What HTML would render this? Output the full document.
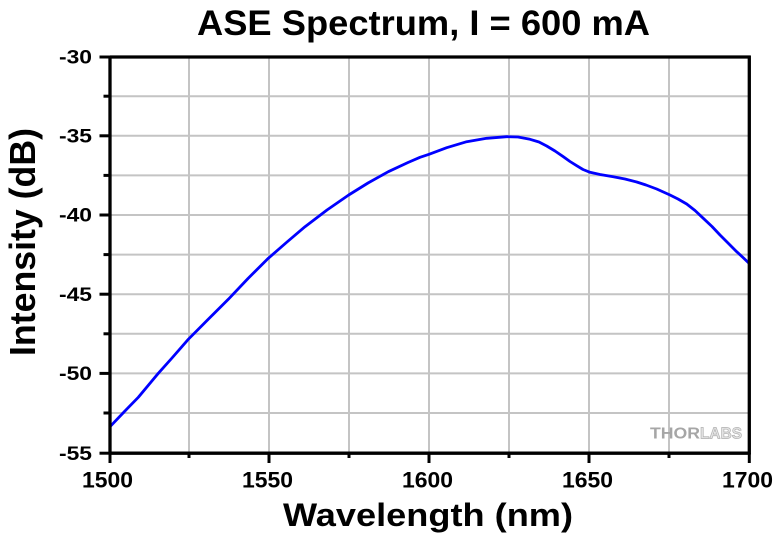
<!DOCTYPE html>
<html>
<head>
<meta charset="utf-8">
<style>
html,body{margin:0;padding:0;background:#fff;}
svg{display:block;}
text{font-family:"Liberation Sans",Arial,sans-serif;font-weight:bold;fill:#000;}
</style>
</head>
<body>
<svg width="780" height="537" viewBox="0 0 780 537" xmlns="http://www.w3.org/2000/svg">
<rect x="0" y="0" width="780" height="537" fill="#fff"/>
<!-- grid -->
<g stroke="#c4c4c4" stroke-width="2" fill="none">
<line x1="189" y1="57" x2="189" y2="452"/>
<line x1="269" y1="57" x2="269" y2="452"/>
<line x1="349" y1="57" x2="349" y2="452"/>
<line x1="429" y1="57" x2="429" y2="452"/>
<line x1="509" y1="57" x2="509" y2="452"/>
<line x1="589" y1="57" x2="589" y2="452"/>
<line x1="669" y1="57" x2="669" y2="452"/>
<line x1="110" y1="96.2" x2="748" y2="96.2"/>
<line x1="110" y1="135.8" x2="748" y2="135.8"/>
<line x1="110" y1="175.4" x2="748" y2="175.4"/>
<line x1="110" y1="215" x2="748" y2="215"/>
<line x1="110" y1="254.6" x2="748" y2="254.6"/>
<line x1="110" y1="294.2" x2="748" y2="294.2"/>
<line x1="110" y1="333.8" x2="748" y2="333.8"/>
<line x1="110" y1="373.4" x2="748" y2="373.4"/>
<line x1="110" y1="413" x2="748" y2="413"/>
</g>
<!-- THORLABS logo -->
<text x="650" y="438.5" font-size="16" textLength="50" lengthAdjust="spacingAndGlyphs" style="fill:#a6a6a6">THOR</text>
<text x="700" y="438.5" font-size="16" textLength="42" lengthAdjust="spacingAndGlyphs" style="fill:#e4e4e4;stroke:#b0b0b0;stroke-width:0.7">LABS</text>
<!-- curve -->
<polyline fill="none" stroke="#0000ff" stroke-width="2.8" stroke-linejoin="round" stroke-linecap="round"
points="110,426.7 124,412 138.3,397.3 158.3,373.3 172,358 188.3,339.3 208,319.5 228.3,299.3 248,278.5 268.3,258.3 287,242 305,226.7 327,210 348.7,195 368,183 388.3,171.7 408,162.5 420,157.3 429,154.3 446.7,147.7 466.7,141.7 486.7,138.3 506.7,136.7 518,137 530,139.3 539,142 546.7,146 555,151 563.3,156.7 570,161.5 576.7,165.7 583,169.5 590,172.3 600,174.5 613.3,176.7 625,179 636.7,182 646,185 656.7,189 670,195 678,199 686.7,204 695,210.5 703.3,218.3 712,226.5 720,235 728,243 736.7,251.7 743,257.5 749,263.3"/>
<!-- axes frame -->
<g stroke="#000" stroke-width="3.3" fill="none">
<line x1="110" y1="57" x2="750.5" y2="57"/>
<line x1="749.3" y1="55.5" x2="749.3" y2="454.5"/>
<line x1="110" y1="55.5" x2="110" y2="454.5"/>
<line x1="108.5" y1="453.2" x2="750.5" y2="453.2"/>
</g>
<!-- ticks -->
<g stroke="#000" stroke-width="3" fill="none">
<line x1="99.5" y1="57" x2="110" y2="57"/>
<line x1="99.5" y1="135.8" x2="110" y2="135.8"/>
<line x1="99.5" y1="215" x2="110" y2="215"/>
<line x1="99.5" y1="294.2" x2="110" y2="294.2"/>
<line x1="99.5" y1="373.4" x2="110" y2="373.4"/>
<line x1="99.5" y1="453.2" x2="110" y2="453.2"/>
<line x1="103.5" y1="96.2" x2="110" y2="96.2"/>
<line x1="103.5" y1="175.4" x2="110" y2="175.4"/>
<line x1="103.5" y1="254.6" x2="110" y2="254.6"/>
<line x1="103.5" y1="333.8" x2="110" y2="333.8"/>
<line x1="103.5" y1="413" x2="110" y2="413"/>
<line x1="110" y1="453" x2="110" y2="463"/>
<line x1="269" y1="453" x2="269" y2="463"/>
<line x1="429" y1="453" x2="429" y2="463"/>
<line x1="589" y1="453" x2="589" y2="463"/>
<line x1="749.3" y1="453" x2="749.3" y2="463"/>
<line x1="189" y1="453" x2="189" y2="458"/>
<line x1="349" y1="453" x2="349" y2="458"/>
<line x1="509" y1="453" x2="509" y2="458"/>
<line x1="669" y1="453" x2="669" y2="458"/>
</g>
<!-- y tick labels -->
<g font-size="19.5">
<text x="59" y="63.5" textLength="33" lengthAdjust="spacingAndGlyphs">-30</text>
<text x="59" y="142.5" textLength="33" lengthAdjust="spacingAndGlyphs">-35</text>
<text x="59" y="221.7" textLength="33" lengthAdjust="spacingAndGlyphs">-40</text>
<text x="59" y="300.9" textLength="33" lengthAdjust="spacingAndGlyphs">-45</text>
<text x="59" y="380.1" textLength="33" lengthAdjust="spacingAndGlyphs">-50</text>
<text x="59" y="459.9" textLength="33" lengthAdjust="spacingAndGlyphs">-55</text>
</g>
<!-- x tick labels -->
<g font-size="22">
<text x="82" y="487.5" textLength="51" lengthAdjust="spacingAndGlyphs">1500</text>
<text x="242" y="487.5" textLength="51" lengthAdjust="spacingAndGlyphs">1550</text>
<text x="402" y="487.5" textLength="51" lengthAdjust="spacingAndGlyphs">1600</text>
<text x="562" y="487.5" textLength="51" lengthAdjust="spacingAndGlyphs">1650</text>
<text x="722" y="487.5" textLength="51" lengthAdjust="spacingAndGlyphs">1700</text>
</g>
<!-- title -->
<text x="197" y="35" font-size="35" textLength="453" lengthAdjust="spacingAndGlyphs">ASE Spectrum, I = 600 mA</text>
<!-- x label -->
<text x="283" y="526" font-size="32.5" textLength="290" lengthAdjust="spacingAndGlyphs">Wavelength (nm)</text>
<!-- y label -->
<text transform="translate(35,356) rotate(-90)" x="0" y="0" font-size="36" textLength="228" lengthAdjust="spacingAndGlyphs">Intensity (dB)</text>
</svg>
</body>
</html>
